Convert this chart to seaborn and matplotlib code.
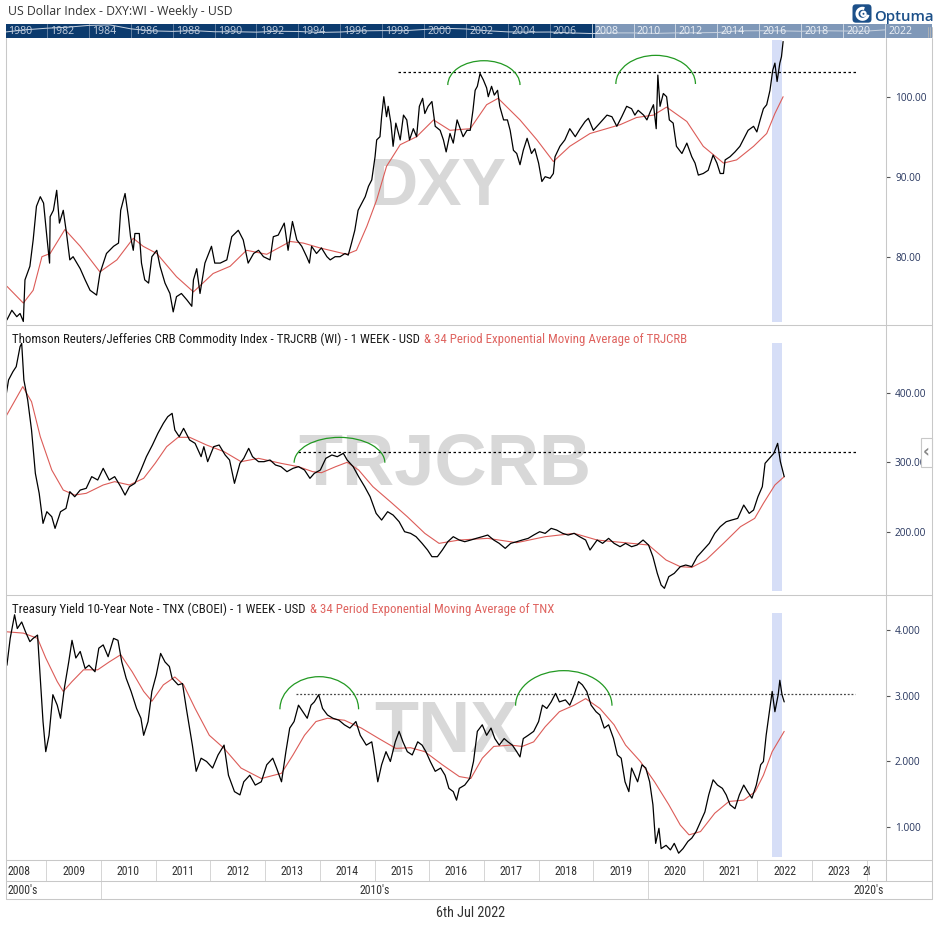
import matplotlib
matplotlib.use("Agg")
import matplotlib.pyplot as plt
import seaborn as sns
from matplotlib import font_manager as fm
from matplotlib.patches import Arc, Rectangle, FancyBboxPatch
from matplotlib.lines import Line2D
from matplotlib.transforms import Bbox

# ------------------------------------------------------------------ data
dxy_t = [2008.28, 2008.37, 2008.46, 2008.52, 2008.58, 2008.61, 2008.70, 2008.76, 2008.82, 2008.89,
         2008.95, 2009.01, 2009.06, 2009.07, 2009.13, 2009.19, 2009.24, 2009.31, 2009.37, 2009.43,
         2009.49, 2009.62, 2009.71, 2009.80, 2009.92, 2009.98, 2010.10, 2010.23, 2010.32, 2010.36,
         2010.44, 2010.50, 2010.54, 2010.59, 2010.62, 2010.70, 2010.74, 2010.80, 2010.87, 2010.93,
         2011.02, 2011.08, 2011.17, 2011.26, 2011.32, 2011.38, 2011.47, 2011.57, 2011.66, 2011.69,
         2011.75, 2011.81, 2011.90, 2012.02, 2012.08, 2012.18, 2012.30, 2012.39, 2012.51, 2012.60,
         2012.69, 2012.79, 2012.88, 2012.97, 2013.09, 2013.15, 2013.24, 2013.35, 2013.42, 2013.50,
         2013.58, 2013.67, 2013.76, 2013.81, 2013.85, 2013.94, 2014.03, 2014.13, 2014.19, 2014.28,
         2014.37, 2014.46, 2014.52, 2014.58, 2014.64, 2014.70, 2014.77, 2014.83, 2014.89, 2014.95,
         2015.01, 2015.04, 2015.10, 2015.13, 2015.17, 2015.22, 2015.25, 2015.30, 2015.34, 2015.39,
         2015.47, 2015.53, 2015.59, 2015.64, 2015.71, 2015.77, 2015.82, 2015.88, 2015.92, 2015.98,
         2016.05, 2016.11, 2016.20, 2016.26, 2016.31, 2016.38, 2016.44, 2016.51, 2016.62, 2016.69,
         2016.75, 2016.80, 2016.84, 2016.88, 2016.93, 2016.99, 2017.05, 2017.08, 2017.14, 2017.19,
         2017.25, 2017.29, 2017.36, 2017.43, 2017.48, 2017.54, 2017.60, 2017.66, 2017.72, 2017.79,
         2017.87, 2017.93, 2018.00, 2018.06, 2018.12, 2018.21, 2018.27, 2018.30, 2018.39, 2018.48,
         2018.57, 2018.67, 2018.76, 2018.85, 2018.91, 2019.00, 2019.12, 2019.25, 2019.34, 2019.43,
         2019.52, 2019.61, 2019.70, 2019.76, 2019.82, 2019.92, 2019.98, 2020.04, 2020.10, 2020.15,
         2020.18, 2020.22, 2020.28, 2020.34, 2020.39, 2020.46, 2020.52, 2020.62, 2020.71, 2020.80,
         2020.86, 2020.92, 2021.01, 2021.10, 2021.19, 2021.26, 2021.32, 2021.38, 2021.41, 2021.50,
         2021.59, 2021.68, 2021.77, 2021.83, 2021.93, 2021.99, 2022.05, 2022.11, 2022.17, 2022.23,
         2022.28, 2022.32, 2022.36, 2022.41, 2022.44, 2022.47]
dxy_v = [72.1, 73.3, 72.5, 72.9, 71.9, 77.1, 78.8, 82.1, 86.3, 87.5,
         86.7, 82.5, 79.2, 85.0, 85.8, 88.3, 84.2, 85.8, 82.9, 79.6,
         80.0, 78.5, 77.1, 75.8, 75.2, 77.9, 80.4, 81.3, 81.7, 85.8,
         87.9, 85.0, 82.5, 80.8, 82.9, 82.9, 79.2, 77.1, 76.7, 80.0,
         80.8, 78.8, 76.7, 75.4, 73.1, 75.0, 75.4, 74.6, 73.8, 77.1,
         78.5, 75.4, 79.2, 81.3, 79.2, 79.2, 79.6, 82.5, 83.3, 82.1,
         79.2, 80.4, 80.8, 80.0, 79.6, 82.5, 82.7, 84.2, 80.8, 84.4,
         82.1, 81.3, 80.0, 79.2, 81.3, 80.4, 81.1, 80.0, 79.6, 80.0,
         80.0, 80.4, 80.2, 81.7, 83.3, 85.8, 86.7, 87.5, 88.8, 89.6,
         92.5, 94.6, 95.0, 97.5, 100.0, 97.5, 98.8, 96.7, 93.8, 96.7,
         94.6, 97.7, 97.1, 94.6, 96.0, 95.0, 98.8, 99.8, 97.9, 98.8,
         99.4, 96.3, 95.8, 94.6, 93.1, 95.4, 94.2, 97.1, 95.0, 95.8,
         95.8, 98.3, 100.8, 101.3, 102.9, 102.1, 101.1, 100.0, 101.3, 100.2,
         100.8, 98.8, 97.1, 97.1, 95.8, 93.3, 92.9, 91.5, 93.3, 94.8,
         92.9, 93.5, 91.7, 89.4, 90.0, 89.8, 90.4, 92.5, 93.8, 94.6,
         96.0, 95.0, 96.0, 96.9, 97.3, 95.8, 96.7, 97.7, 97.5, 96.3,
         97.5, 98.8, 98.5, 97.7, 98.3, 97.7, 97.1, 98.1, 99.0, 96.0,
         102.7, 98.8, 100.4, 100.0, 97.1, 96.7, 93.8, 92.9, 94.2, 92.5,
         91.7, 90.2, 90.4, 90.8, 92.7, 91.7, 90.4, 90.4, 92.1, 92.5,
         93.1, 93.8, 95.0, 95.8, 96.3, 95.6, 97.1, 98.5, 99.0, 100.8,
         103.3, 104.2, 101.9, 104.2, 105.0, 106.9]
dxy_ema_t = [2008.28, 2008.58, 2008.76, 2008.92, 2009.07, 2009.34, 2009.62, 2009.98, 2010.29, 2010.59,
             2010.77, 2011.02, 2011.38, 2011.69, 2012.05, 2012.36, 2012.66, 2013.03, 2013.46, 2013.70,
             2014.00, 2014.49, 2014.67, 2014.86, 2015.04, 2015.22, 2015.47, 2015.77, 2016.08, 2016.38,
             2016.75, 2017.05, 2017.26, 2017.66, 2017.97, 2018.27, 2018.57, 2018.94, 2019.49, 2019.79,
             2020.10, 2020.34, 2020.71, 2021.01, 2021.38, 2021.62, 2021.93, 2022.17, 2022.32, 2022.47]
dxy_ema_v = [76.3, 74.2, 75.8, 80.0, 80.4, 83.4, 81.3, 78.1, 79.6, 82.3,
             81.3, 80.4, 77.5, 75.6, 77.9, 78.8, 80.8, 80.3, 81.9, 81.7,
             81.1, 80.3, 80.8, 83.8, 87.1, 91.3, 94.0, 95.0, 97.1, 95.8,
             96.0, 99.0, 99.8, 97.1, 94.6, 91.9, 93.8, 95.4, 96.5, 97.4,
             97.7, 98.7, 96.9, 93.8, 91.7, 92.1, 93.8, 95.4, 97.9, 100.0]

crb_t = [2008.26, 2008.31, 2008.39, 2008.45, 2008.52, 2008.55, 2008.59, 2008.66, 2008.73, 2008.80,
         2008.87, 2008.94, 2009.01, 2009.10, 2009.16, 2009.26, 2009.36, 2009.43, 2009.52, 2009.62,
         2009.73, 2009.83, 2009.94, 2010.04, 2010.15, 2010.25, 2010.36, 2010.44, 2010.52, 2010.62,
         2010.73, 2010.83, 2010.94, 2011.04, 2011.14, 2011.22, 2011.30, 2011.35, 2011.43, 2011.51,
         2011.62, 2011.72, 2011.83, 2011.88, 2011.95, 2012.06, 2012.16, 2012.27, 2012.35, 2012.44,
         2012.54, 2012.61, 2012.70, 2012.77, 2012.88, 2012.98, 2013.09, 2013.19, 2013.29, 2013.40,
         2013.51, 2013.61, 2013.72, 2013.82, 2013.90, 2014.01, 2014.11, 2014.22, 2014.32, 2014.43,
         2014.50, 2014.61, 2014.71, 2014.82, 2014.92, 2015.03, 2015.13, 2015.24, 2015.34, 2015.45,
         2015.55, 2015.66, 2015.76, 2015.87, 2015.97, 2016.05, 2016.15, 2016.24, 2016.34, 2016.44,
         2016.55, 2016.65, 2016.76, 2016.86, 2016.97, 2017.07, 2017.18, 2017.28, 2017.39, 2017.49,
         2017.60, 2017.70, 2017.81, 2017.91, 2018.02, 2018.12, 2018.23, 2018.33, 2018.44, 2018.54,
         2018.65, 2018.75, 2018.86, 2018.94, 2019.07, 2019.17, 2019.28, 2019.38, 2019.49, 2019.59,
         2019.70, 2019.80, 2019.91, 2020.01, 2020.09, 2020.17, 2020.24, 2020.30, 2020.38, 2020.48,
         2020.59, 2020.69, 2020.80, 2020.90, 2021.01, 2021.12, 2021.22, 2021.32, 2021.43, 2021.53,
         2021.64, 2021.75, 2021.85, 2021.93, 2022.01, 2022.09, 2022.14, 2022.22, 2022.30, 2022.37,
         2022.42, 2022.49]
crb_v = [394.5, 418.6, 430.6, 437.8, 466.6, 471.4, 418.6, 389.7, 346.5, 284.0,
         255.3, 212.0, 228.8, 221.6, 204.8, 228.8, 233.6, 257.7, 250.4, 260.0,
         262.5, 279.3, 274.5, 291.3, 274.5, 279.3, 264.9, 252.8, 264.9, 269.7,
         288.9, 308.1, 324.9, 341.7, 356.1, 365.7, 370.5, 346.5, 336.9, 348.9,
         332.1, 327.3, 308.1, 322.5, 300.9, 322.5, 324.9, 310.5, 303.3, 269.7,
         298.5, 305.7, 320.1, 308.1, 300.9, 300.9, 303.3, 296.1, 293.7, 286.5,
         291.3, 293.7, 288.9, 276.9, 284.1, 288.9, 305.7, 310.5, 308.1, 312.9,
         303.3, 293.7, 279.3, 264.9, 250.4, 226.4, 216.8, 228.8, 224.0, 214.4,
         200.0, 197.6, 192.8, 183.2, 173.6, 164.0, 164.0, 173.6, 185.6, 192.8,
         188.0, 185.6, 188.0, 190.4, 192.8, 195.2, 188.0, 183.2, 176.0, 183.2,
         185.6, 188.0, 190.4, 195.2, 200.0, 197.6, 204.8, 202.4, 197.6, 195.2,
         197.6, 192.8, 188.0, 173.6, 188.0, 183.2, 190.4, 183.2, 178.4, 183.2,
         178.4, 180.8, 188.0, 180.8, 164.0, 140.0, 123.2, 118.4, 135.2, 140.0,
         149.6, 152.0, 149.6, 164.0, 173.6, 183.2, 197.6, 207.2, 214.4, 216.8,
         219.2, 238.4, 226.4, 231.2, 250.4, 264.9, 298.5, 305.7, 312.9, 327.3,
         300.9, 279.3]
crb_ema_t = [2008.26, 2008.57, 2008.73, 2008.89, 2009.10, 2009.31, 2009.52, 2009.73, 2010.04, 2010.25,
             2010.52, 2010.78, 2010.99, 2011.20, 2011.41, 2011.62, 2011.93, 2012.25, 2012.56, 2012.88,
             2013.29, 2013.61, 2013.87, 2014.03, 2014.29, 2014.50, 2014.71, 2014.97, 2015.29, 2015.60,
             2015.92, 2016.18, 2016.55, 2017.07, 2017.60, 2018.12, 2018.65, 2019.07, 2019.70, 2020.01,
             2020.33, 2020.59, 2020.80, 2021.06, 2021.38, 2021.69, 2021.95, 2022.11, 2022.32, 2022.49]
crb_ema_v = [365.7, 409.0, 387.3, 336.9, 288.9, 260.0, 252.8, 255.3, 267.3, 272.1,
             267.3, 276.9, 298.5, 322.5, 336.0, 336.0, 324.9, 315.3, 300.9, 305.7,
             298.5, 293.7, 286.5, 285.0, 293.7, 300.0, 288.9, 264.9, 243.2, 221.6,
             197.6, 183.2, 188.0, 190.4, 184.2, 192.8, 197.6, 188.0, 183.2, 180.8,
             159.2, 149.6, 148.6, 159.2, 183.2, 207.2, 219.2, 240.9, 267.3, 279.3]

tnx_t = [2008.28, 2008.34, 2008.42, 2008.47, 2008.55, 2008.62, 2008.70, 2008.76, 2008.84, 2008.89,
         2008.94, 2008.99, 2009.05, 2009.12, 2009.20, 2009.26, 2009.33, 2009.41, 2009.47, 2009.54,
         2009.62, 2009.71, 2009.78, 2009.89, 2009.96, 2010.04, 2010.13, 2010.23, 2010.31, 2010.38,
         2010.46, 2010.55, 2010.65, 2010.73, 2010.78, 2010.86, 2010.93, 2011.01, 2011.09, 2011.17,
         2011.25, 2011.30, 2011.41, 2011.49, 2011.56, 2011.67, 2011.74, 2011.83, 2011.93, 2012.04,
         2012.14, 2012.25, 2012.33, 2012.44, 2012.54, 2012.61, 2012.72, 2012.82, 2012.93, 2013.03,
         2013.14, 2013.21, 2013.30, 2013.38, 2013.45, 2013.53, 2013.61, 2013.69, 2013.77, 2013.84,
         2013.90, 2013.98, 2014.05, 2014.14, 2014.24, 2014.35, 2014.45, 2014.55, 2014.66, 2014.74,
         2014.85, 2014.95, 2014.99, 2015.06, 2015.13, 2015.21, 2015.29, 2015.38, 2015.45, 2015.52,
         2015.60, 2015.69, 2015.79, 2015.87, 2015.94, 2016.02, 2016.11, 2016.21, 2016.29, 2016.36,
         2016.44, 2016.50, 2016.55, 2016.65, 2016.74, 2016.81, 2016.88, 2016.97, 2017.05, 2017.13,
         2017.20, 2017.28, 2017.37, 2017.44, 2017.52, 2017.60, 2017.66, 2017.72, 2017.81, 2017.91,
         2018.00, 2018.07, 2018.15, 2018.23, 2018.31, 2018.38, 2018.49, 2018.57, 2018.65, 2018.73,
         2018.80, 2018.88, 2018.96, 2019.05, 2019.12, 2019.20, 2019.28, 2019.37, 2019.44, 2019.51,
         2019.58, 2019.65, 2019.70, 2019.81, 2019.89, 2019.96, 2020.03, 2020.09, 2020.14, 2020.20,
         2020.24, 2020.33, 2020.41, 2020.48, 2020.56, 2020.64, 2020.73, 2020.80, 2020.88, 2020.96,
         2021.04, 2021.11, 2021.19, 2021.27, 2021.36, 2021.43, 2021.50, 2021.59, 2021.67, 2021.75,
         2021.82, 2021.90, 2021.98, 2022.06, 2022.11, 2022.16, 2022.22, 2022.27, 2022.32, 2022.38,
         2022.41, 2022.45, 2022.49]
tnx_v = [3.47, 3.88, 4.24, 4.03, 4.13, 3.98, 3.83, 3.88, 3.93, 3.27,
         2.61, 2.15, 2.40, 3.02, 2.86, 2.66, 3.12, 3.52, 3.85, 3.58,
         3.68, 3.42, 3.47, 3.37, 3.73, 3.78, 3.60, 3.88, 3.85, 3.52,
         3.27, 3.07, 2.81, 2.66, 2.40, 2.61, 3.07, 3.32, 3.65, 3.52,
         3.45, 3.27, 3.17, 3.19, 2.81, 2.25, 1.85, 2.05, 2.00, 1.90,
         2.10, 2.25, 1.79, 1.54, 1.49, 1.69, 1.79, 1.64, 1.69, 1.95,
         2.05, 1.90, 1.69, 2.15, 2.51, 2.61, 2.86, 2.76, 2.66, 2.86,
         2.91, 3.02, 2.81, 2.71, 2.66, 2.63, 2.56, 2.51, 2.61, 2.40,
         2.25, 2.30, 2.10, 1.69, 1.95, 2.15, 2.00, 2.30, 2.46, 2.30,
         2.15, 2.10, 2.30, 2.25, 2.15, 2.00, 1.85, 1.90, 1.79, 1.59,
         1.54, 1.41, 1.59, 1.64, 1.74, 2.00, 2.46, 2.56, 2.40, 2.51,
         2.35, 2.25, 2.35, 2.30, 2.25, 2.15, 2.07, 2.35, 2.40, 2.46,
         2.61, 2.86, 2.81, 2.91, 3.04, 2.91, 2.94, 2.86, 3.02, 3.22,
         3.17, 3.07, 2.86, 2.76, 2.71, 2.51, 2.56, 2.35, 2.10, 2.05,
         1.69, 1.54, 1.90, 1.69, 1.95, 1.90, 1.69, 1.34, 0.75, 0.98,
         0.67, 0.72, 0.65, 0.75, 0.60, 0.67, 0.78, 0.83, 0.93, 1.08,
         1.23, 1.49, 1.72, 1.64, 1.59, 1.49, 1.34, 1.28, 1.49, 1.64,
         1.54, 1.44, 1.64, 1.95, 2.00, 2.40, 2.76, 3.07, 2.76, 3.02,
         3.24, 3.02, 2.91]
tnx_ema_t = [2008.28, 2008.58, 2008.84, 2008.99, 2009.20, 2009.31, 2009.47, 2009.68, 2009.94, 2010.15,
             2010.36, 2010.57, 2010.78, 2010.93, 2011.14, 2011.35, 2011.51, 2011.72, 2011.98, 2012.25,
             2012.56, 2012.93, 2013.30, 2013.51, 2013.72, 2013.93, 2014.14, 2014.45, 2014.76, 2015.08,
             2015.39, 2015.66, 2015.92, 2016.24, 2016.55, 2016.76, 2016.97, 2017.18, 2017.49, 2017.70,
             2017.91, 2018.12, 2018.38, 2018.65, 2018.86, 2019.12, 2019.38, 2019.59, 2019.86, 2020.12,
             2020.38, 2020.59, 2020.75, 2020.96, 2021.22, 2021.48, 2021.75, 2021.96, 2022.11, 2022.27,
             2022.49]
tnx_ema_v = [3.98, 3.96, 3.88, 3.58, 3.22, 3.07, 3.22, 3.40, 3.40, 3.52,
             3.63, 3.37, 3.07, 2.92, 3.17, 3.29, 3.17, 2.81, 2.40, 2.20,
             1.90, 1.74, 1.82, 2.10, 2.40, 2.61, 2.66, 2.63, 2.51, 2.35,
             2.20, 2.21, 2.15, 1.95, 1.77, 1.74, 2.05, 2.23, 2.25, 2.23,
             2.30, 2.53, 2.76, 2.86, 2.96, 2.81, 2.56, 2.25, 2.00, 1.69,
             1.34, 1.03, 0.88, 0.93, 1.21, 1.39, 1.41, 1.54, 1.79, 2.15,
             2.46]

# annotations: resistance levels (value, from, to) and arcs (centre t, centre v, width, height)
dxy_level = (103.05, 2015.43, 2023.82)
crb_level = (314.3, 2013.61, 2023.81)
tnx_level = (3.03, 2013.56, 2023.79)
dxy_arcs = [(2017.00, 101.46, 1.32, 6.08), (2020.14, 101.59, 1.455, 7.16)]
crb_arcs = [(2014.36, 299.4, 1.658, 73.0)]
tnx_arcs = [(2013.99, 2.797, 1.438, 0.996), (2018.46, 2.852, 1.763, 1.07)]
band_start, band_end = 2022.27, 2022.45

dxy_ticks = [80, 90, 100]
crb_ticks = [200, 300, 400]
tnx_ticks = [1, 2, 3, 4]
year_labels = list(range(2008, 2025))
decade_labels = ["2000's", "2010's", "2020's"]
nav_years = list(range(1980, 2023))
nav_dxy = [87, 105, 117, 125, 139, 143, 112, 96, 92, 98, 89, 89, 86, 93, 91, 84, 87, 96, 98, 97,
           107, 116, 111, 97, 88, 86, 87, 80, 75, 80, 80, 76, 80, 81, 83, 96, 97, 96, 93, 97, 95, 93, 104]
nav_label_years = list(range(1980, 2023, 2))
nav_view_start = 2008.16

title_top = "US Dollar Index - DXY:WI - Weekly - USD"
title_crb = "Thomson Reuters/Jefferies CRB Commodity Index - TRJCRB (WI) - 1 WEEK - USD"
title_crb_ema = "& 34 Period Exponential Moving Average of TRJCRB"
title_tnx = "Treasury Yield 10-Year Note - TNX (CBOEI) - 1 WEEK - USD"
title_tnx_ema = "& 34 Period Exponential Moving Average of TNX"
date_label = "6th Jul 2022"

# ------------------------------------------------------------------ style
sns.set_theme(style="white")
avail = {f.name for f in fm.fontManager.ttflist}


def pick(names, default="DejaVu Sans"):
    for n in names:
        if n in avail:
            return n
    return default


REG = pick(["Open Sans", "Noto Sans", "Lato", "Roboto"])
NARROW = pick(["Liberation Sans Narrow", "Roboto Condensed", "Open Sans Condensed"], "DejaVu Sans")
BOLDF = pick(["Liberation Sans", "Arimo"], "DejaVu Sans")
plt.rcParams["font.family"] = [REG, "DejaVu Sans"]
NKW = dict(family=[NARROW, "DejaVu Sans"], fontstretch="condensed")
RKW = dict(family=[REG, "DejaVu Sans"])

RED = "#dc5c58"
GREEN = "#229922"
BAND = "#d6def7"
BORDER = "#c8c8c8"
TICKC = "#26355e"

W, H = 939, 932
fig = plt.figure(figsize=(W / 100, H / 100), dpi=100)
fig.patch.set_facecolor("white")
renderer = fig.canvas.get_renderer()


def px_width(s, size, **kw):
    t = fig.text(0, 0, s, fontsize=size, **kw)
    w = t.get_window_extent(renderer).width
    t.remove()
    return w


def fit(s, target, **kw):
    return 10.0 * target / px_width(s, 10.0, **kw)


def add_ax(x0, y0, x1, y1):
    return fig.add_axes([x0 / W, 1 - y1 / H, (x1 - x0) / W, (y1 - y0) / H])


def fline(xs, ys, color=BORDER, lw=0.75, z=5):
    fig.add_artist(Line2D([x / W for x in xs], [1 - y / H for y in ys],
                          color=color, lw=lw, zorder=z, transform=fig.transFigure))


def ftext(x, y, s, **kw):
    return fig.text(x / W, 1 - y / H, s, **kw)


X0 = 2010 + (6 - 101) / 54.7
X1 = 2010 + (886 - 101) / 54.7
TICK_FS = fit("100.00", 32, **RKW)


def setup(ax, lo, hi, ticks, fmt):
    ax.set_xlim(X0, X1)
    ax.set_ylim(lo, hi)
    ax.set_facecolor("white")
    for s in ax.spines.values():
        s.set_visible(False)
    ax.grid(False)
    ax.set_xticks([])
    ax.yaxis.tick_right()
    ax.set_yticks(ticks)
    ax.set_yticklabels([fmt.format(v) for v in ticks])
    ax.tick_params(axis="y", direction="out", length=2.9, width=0.8, color="#555555",
                   pad=3.6, labelsize=TICK_FS, labelcolor=TICKC, right=True, left=False)
    ax.set_xlabel("")
    ax.set_ylabel("")


def panel(ax, t, v, et, ev, level, arcs, band_lo, band_hi, lvl_style, lvl_color):
    ax.axvspan(band_start, band_end, ymin=band_lo, ymax=band_hi, color=BAND, lw=0, zorder=1)
    ax.hlines(level[0], level[1], level[2], colors=lvl_color, linestyles=lvl_style, lw=0.9, zorder=2)
    for (cx, cy, w, h) in arcs:
        ax.add_patch(Arc((cx, cy), w, h, theta1=0, theta2=180, color=GREEN, lw=0.9, zorder=2))
    sns.lineplot(x=et, y=ev, ax=ax, color=RED, lw=0.8, zorder=3, estimator=None, sort=False)
    sns.lineplot(x=t, y=v, ax=ax, color="black", lw=0.9, zorder=4, estimator=None, sort=False)
    ax.set_xlim(X0, X1)


# ------------------------------------------------------------------ top strip
ftext(8, 11, title_top, fontsize=fit(title_top, 224, **RKW), color="#333333", va="center", **RKW)

ax_nav = add_ax(6, 24, 932, 38)
NX0 = 1980 + (6 - 5.1) / 20.95
NX1 = 1980 + (932 - 5.1) / 20.95
ax_nav.set_xlim(NX0, NX1)
ax_nav.set_ylim(40, 150)
ax_nav.axis("off")
ax_nav.axvspan(NX0, nav_view_start, color="#0c3b6e", lw=0, zorder=0)
ax_nav.axvspan(nav_view_start, NX1, color="#7f98b8", lw=0, zorder=0)
nav_fs = fit("1982", 24, **RKW)
for yr in nav_label_years:
    light = yr >= 2008
    ax_nav.axvline(yr, color="#d8e0ea" if light else "#6f89aa", lw=0.6, zorder=1)
    ax_nav.text(yr + 0.15, 0.5, str(yr), transform=ax_nav.get_xaxis_transform(), va="center",
                ha="left", fontsize=nav_fs, color="#eef2f7" if light else "#c5d0df", zorder=3, **RKW)
sns.lineplot(x=nav_years, y=nav_dxy, ax=ax_nav, color="#c9d3e0", lw=0.7, zorder=2,
             estimator=None, sort=False)
ax_nav.set_xlim(NX0, NX1)
ax_nav.set_ylim(40, 150)
for gx in (927.5, 929.5, 931.5):
    fline([gx, gx], [27, 37], color="#b5b5b5", lw=0.6, z=6)

# logo
logo = add_ax(852, 4, 872, 23)
logo.set_xlim(0, 20)
logo.set_ylim(0, 19)
logo.axis("off")
logo.add_patch(FancyBboxPatch((0.5, 0.3), 19, 18.4, boxstyle="round,pad=0,rounding_size=3.5",
                              fc="#1c5089", ec="none"))
logo.add_patch(Arc((10.5, 9.2), 11, 11, theta1=70, theta2=350, color="white", lw=2.2))
logo.add_patch(Arc((11.5, 9.2), 4.2, 4.2, theta1=0, theta2=360, color="white", lw=1.6))
ftext(874, 20.7, "Optuma", fontsize=fit("Optuma", 58, **RKW), color="#1c5089", va="baseline",
      ha="left", fontweight="semibold", **RKW)

# ------------------------------------------------------------------ panels
ax1 = add_ax(6, 38, 886, 325)
setup(ax1, 71.46, 107.34, dxy_ticks, "{:.2f}")
ax1.text(2016.16, 86.46, "DXY", ha="center", va="baseline", fontsize=48, fontweight="bold",
         color="#d8d8d8", zorder=0.5, family=[BOLDF, "DejaVu Sans"])
panel(ax1, dxy_t, dxy_v, dxy_ema_t, dxy_ema_v, dxy_level, dxy_arcs, 0.011, 0.993, (0, (2, 2)), "black")
ax1.set_ylim(71.46, 107.34)

ax2 = add_ax(6, 325, 886, 595)
setup(ax2, 108.8, 497.8, crb_ticks, "{:.2f}")
ax2.text(2016.29, 267.3, "TRJCRB", ha="center", va="baseline", fontsize=52, fontweight="bold",
         color="#d8d8d8", zorder=0.5, family=[BOLDF, "DejaVu Sans"])
panel(ax2, crb_t, crb_v, crb_ema_t, crb_ema_v, crb_level, crb_arcs, 0.016, 0.934, (0, (2, 2)), "black")
ax2.set_ylim(108.8, 497.8)

ax3 = add_ax(6, 595, 886, 860)
setup(ax3, 0.496, 4.542, tnx_ticks, "{:.3f}")
ax3.text(2016.31, 2.145, "TNX", ha="center", va="baseline", fontsize=52, fontweight="bold",
         color="#d8d8d8", zorder=0.5, family=[BOLDF, "DejaVu Sans"])
panel(ax3, tnx_t, tnx_v, tnx_ema_t, tnx_ema_v, tnx_level, tnx_arcs, 0.011, 0.932, (0, (1.5, 1.5)), "#444444")
ax3.set_ylim(0.496, 4.542)

# panel titles (black part + red part)
ttl_fs = fit(title_crb, 405, **NKW)
for (txt, red, y) in [(title_crb, title_crb_ema, 339.3), (title_tnx, title_tnx_ema, 609)]:
    t1 = ftext(12.5, y, txt, fontsize=ttl_fs, color="#1a1a1a", va="center", ha="left", zorder=8, **NKW)
    bb = t1.get_window_extent(renderer)
    ftext(bb.x1 + 3.5, y, red, fontsize=ttl_fs, color="#df6460", va="center", ha="left", zorder=8, **NKW)

# ------------------------------------------------------------------ time axis
ax_yr = add_ax(6, 860, 886, 881)
ax_yr.set_xlim(X0, X1)
ax_yr.set_ylim(0, 1)
ax_yr.axis("off")
yr_fs = fit("2009", 23, **NKW)
for yr in year_labels:
    ax_yr.axvline(yr, color="#d5d5d5", lw=0.7)
    if yr == year_labels[0]:
        ax_yr.text(X0 + 0.03, 0.45, str(yr), ha="left", va="center", fontsize=yr_fs, color="#333333", **NKW)
    elif yr == year_labels[-1]:
        tt = ax_yr.text(yr - 0.08, 0.45, str(yr), ha="left", va="center", fontsize=yr_fs,
                        color="#333333", clip_on=True, **NKW)
        tt.set_clip_box(Bbox.from_extents(0, 0, 869.5, H))
    else:
        ax_yr.text(yr + 0.5, 0.45, str(yr), ha="center", va="center", fontsize=yr_fs, color="#333333", **NKW)

ax_dec = add_ax(6, 881, 932, 899)
DX1 = 2010 + (932 - 101) / 54.7
ax_dec.set_xlim(X0, DX1)
ax_dec.set_ylim(0, 1)
ax_dec.axis("off")
for d in (2010, 2020):
    ax_dec.axvline(d, color="#d5d5d5", lw=0.7)
ax_dec.text(X0 + 0.03, 0.5, decade_labels[0], ha="left", va="center", fontsize=yr_fs, color="#333333", **NKW)
ax_dec.text(2015.0, 0.5, decade_labels[1], ha="center", va="center", fontsize=yr_fs, color="#333333", **NKW)
ax_dec.text(2010 + (884 - 101) / 54.7, 0.5, decade_labels[2], ha="right", va="center", fontsize=yr_fs,
            color="#333333", **NKW)

ftext(471, 913, date_label, fontsize=fit(date_label, 69, **NKW), color="#333333", ha="center",
      va="center", **NKW)

# ------------------------------------------------------------------ frame lines
fline([6, 6], [38, 899])
fline([886, 886], [38, 881])
fline([932, 932], [38, 899])
for yy in (325, 595, 860, 881, 899):
    fline([6, 932], [yy, yy])

# side tab
fig.add_artist(Rectangle((920.5 / W, 1 - 467 / H), 11.5 / W, 29 / H, transform=fig.transFigure,
                         facecolor="white", edgecolor="#c8c8c8", lw=0.8, zorder=10))
ftext(926.3, 452, "\u2039", fontsize=12, fontweight="bold", color="#888888", ha="center",
      va="center", zorder=11, family=["DejaVu Sans"])

fig.savefig("out.png", dpi=100, facecolor="white")
